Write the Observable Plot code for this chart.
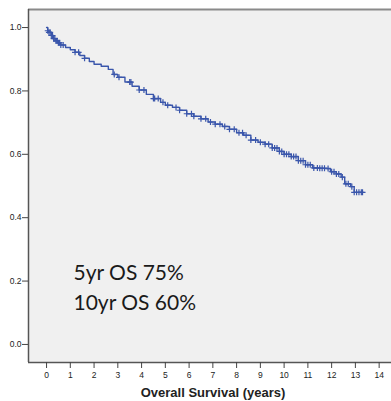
<!DOCTYPE html>
<html><head><meta charset="utf-8">
<script src="https://cdn.jsdelivr.net/npm/d3@7"></script>
<script src="https://cdn.jsdelivr.net/npm/@observablehq/plot@0.6"></script>
<style>body{margin:0;background:#fff}</style></head>
<body><div id="chart"></div>
<script>
// Kaplan-Meier estimate (years, survival probability)
const times    = [0, 0.05, 0.1, 0.2, 0.3, 0.4, 0.5, 0.6, 0.8, 1.0, 1.2, 1.4, 1.6, 1.8, 2.0, 2.3, 2.6, 2.8, 3.0, 3.3, 3.6, 3.9, 4.2, 4.5, 4.8, 5.0, 5.3, 5.6, 5.9, 6.2, 6.5, 6.8, 7.1, 7.4, 7.7, 8.0, 8.3, 8.6, 8.9, 9.2, 9.5, 9.8, 10.0, 10.3, 10.6, 10.9, 11.2, 11.5, 11.8, 11.95, 12.2, 12.4, 12.55, 12.8, 12.95, 13.3];
const survival = [1.0, 0.99, 0.985, 0.975, 0.965, 0.958, 0.952, 0.945, 0.937, 0.93, 0.922, 0.912, 0.903, 0.893, 0.884, 0.878, 0.868, 0.852, 0.843, 0.828, 0.815, 0.803, 0.789, 0.776, 0.764, 0.755, 0.748, 0.739, 0.728, 0.72, 0.712, 0.702, 0.695, 0.688, 0.679, 0.668, 0.66, 0.645, 0.638, 0.632, 0.62, 0.609, 0.600, 0.593, 0.58, 0.567, 0.557, 0.556, 0.555, 0.545, 0.538, 0.528, 0.507, 0.498, 0.48, 0.48];
// censored observations (years)
const censorTimes = [0.05, 0.1, 0.15, 0.2, 0.25, 0.3, 0.35, 0.4, 0.45, 0.5, 0.55, 0.6, 0.7, 1.2, 1.35, 1.6, 2.85, 3.05, 3.5, 3.55, 3.9, 4.1, 4.5, 4.55, 4.7, 4.9, 5.1, 5.45, 5.6, 5.9, 6.1, 6.2, 6.5, 6.7, 6.9, 7.1, 7.3, 7.5, 7.7, 7.9, 8.1, 8.25, 8.4, 8.6, 8.8, 9.0, 9.2, 9.35, 9.5, 9.6, 9.7, 9.8, 9.9, 10.0, 10.1, 10.2, 10.3, 10.4, 10.5, 10.6, 10.7, 10.8, 10.9, 11.0, 11.1, 11.25, 11.4, 11.5, 11.6, 11.7, 11.85, 12.0, 12.1, 12.2, 12.3, 12.45, 12.6, 12.7, 12.85, 12.95, 13.05, 13.15, 13.25, 13.3];
const xTicks = [0, 1, 2, 3, 4, 5, 6, 7, 8, 9, 10, 11, 12, 13, 14];
const yTicks = [0, 0.2, 0.4, 0.6, 0.8, 1.0];
const yTickLabels = ["0.0", "0.2", "0.4", "0.6", "0.8", "1.0"];
const xLabel = "Overall Survival (years)";
const annotation = ["5yr OS 75%", "10yr OS 60%"];

const xDomain = [-0.76, 14.52];
const yDomain = [-0.057, 1.057];
const blue = "#3a56ab";

const km = times.map((t, i) => ({t, s: survival[i]}));
const censor = censorTimes.map(c => {
  const i = Math.max(0, d3.bisectRight(times, c) - 1);
  return {t: c, s: survival[i]};
});

const chart = Plot.plot({
  width: 391,
  height: 401,
  marginLeft: 28,
  marginRight: 0,
  marginTop: 9,
  marginBottom: 39,
  style: {fontFamily: "'Liberation Sans', Arial, sans-serif", fontSize: "8.5px", color: "#222", background: "#fff"},
  x: {domain: xDomain, ticks: xTicks, tickFormat: d => String(d), label: null},
  y: {domain: yDomain, ticks: yTicks, tickFormat: d => yTickLabels[yTicks.indexOf(d)], label: null},
  marks: [
    Plot.frame({fill: "#f0f0f0", stroke: null}),
    Plot.ruleY([yDomain[1]], {stroke: "#8a8a8a", strokeWidth: 2}),
    Plot.ruleX([xDomain[0]], {stroke: "#555", strokeWidth: 1.5}),
    Plot.ruleY([yDomain[0]], {stroke: "#555", strokeWidth: 1.5}),
    Plot.axisX({ticks: xTicks, tickSize: 6, tickPadding: 3, stroke: "#444", label: null, fontSize: 8.5}),
    Plot.axisY({ticks: yTicks, tickSize: 6, tickPadding: 1, stroke: "#444", label: null, fontSize: 8.5, tickFormat: d => yTickLabels[yTicks.indexOf(d)]}),
    Plot.line(km, {x: "t", y: "s", curve: "step-after", stroke: blue, strokeWidth: 1.4}),
    Plot.dot(censor, {x: "t", y: "s", symbol: "plus", r: 2.1, stroke: blue, strokeWidth: 1.2}),
    Plot.text([annotation.join("\n")], {frameAnchor: "left", dx: 45, dy: 124, textAnchor: "start", lineAnchor: "bottom", lineHeight: 1.42, fontSize: 21, fontFamily: "Lato, 'Open Sans', sans-serif", fill: "#1a1a1a"}),
    Plot.text([xLabel], {frameAnchor: "bottom", dx: 3, dy: 34, fontSize: 13, fontWeight: "bold", fill: "#222"})
  ]
});
document.getElementById("chart").appendChild(chart);
</script>
</body></html>
